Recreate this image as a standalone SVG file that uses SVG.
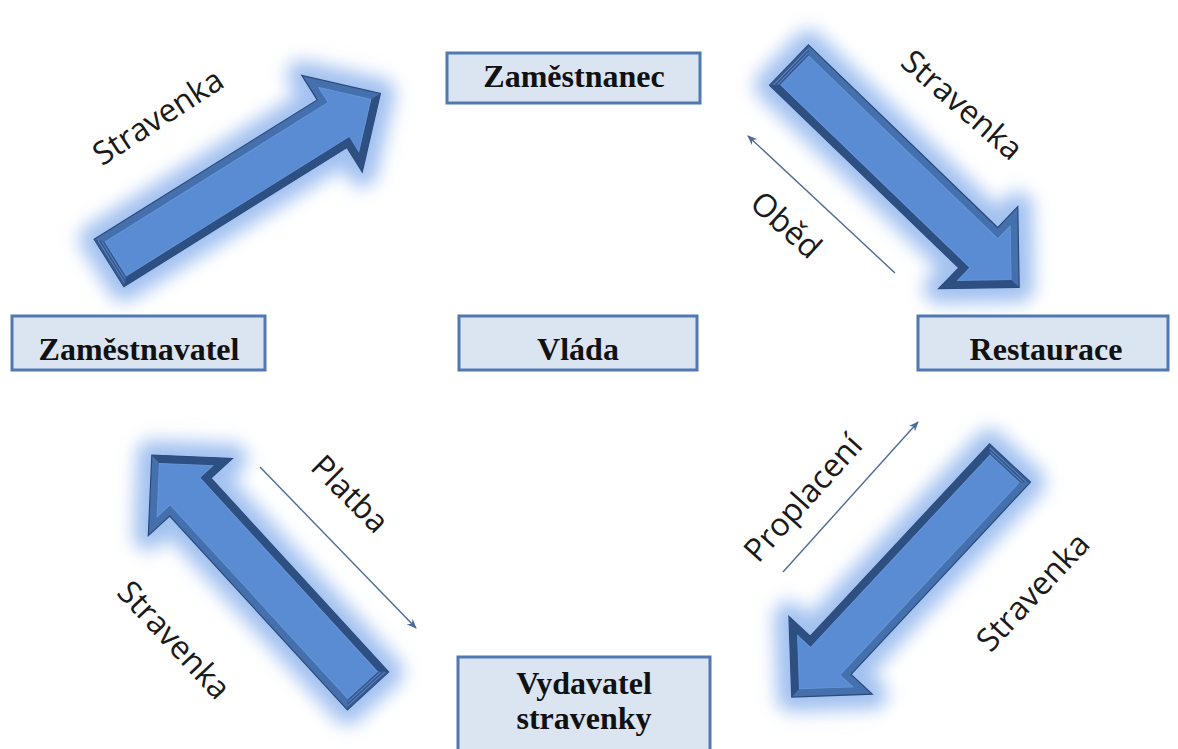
<svg xmlns="http://www.w3.org/2000/svg" xmlns:xlink="http://www.w3.org/1999/xlink" width="1178" height="749" viewBox="0 0 1178 749">
<style>
.box{fill:#dbe5f1;stroke:#5079b2;stroke-width:3}
.btxt{font-family:"Liberation Serif","Times New Roman",serif;font-weight:bold;font-size:32px;fill:#111;text-anchor:middle}
.lbl{font-family:"Open Sans","Noto Sans",sans-serif;font-size:32px;fill:#1a1a1a;text-anchor:middle}
.thin{stroke:#4d6b95;stroke-width:1.4;fill:none;marker-end:url(#ah)}
</style>
<defs>
<filter id="blur" x="-0.3" y="-1.2" width="1.6" height="3.4">
<feGaussianBlur stdDeviation="9"/>
</filter>
<marker id="ah" viewBox="0 0 10 8" refX="9" refY="4" markerWidth="10" markerHeight="8" markerUnits="userSpaceOnUse" orient="auto">
<path d="M0,0 L10,4 L0,8 L3,4 Z" fill="#4d6b95"/>
</marker>
<g id="bigArrow">
<polygon points="0,-28 263,-28 263,-57 320,0 263,57 263,28 0,28" fill="#a2c1f0" stroke="#a2c1f0" stroke-width="30" stroke-linejoin="round" filter="url(#blur)"/>
<polygon points="0,-28 263,-28 263,-57 320,0 263,57 263,28 0,28" fill="#4470ad" stroke="#2b4a78" stroke-width="1.2"/>
<polygon points="0,28 263,28 263,57 320,0 308.7,0 271,37.7 271,20 8,20" fill="#2e4f82"/>
<polygon points="0,-28 8,-20 8,20 0,28" fill="#34588e"/>
<line x1="2.7" y1="-25" x2="2.7" y2="25" stroke="#5a85c2" stroke-width="1"/>
<line x1="5.4" y1="-22" x2="5.4" y2="22" stroke="#5a85c2" stroke-width="1"/>
<polygon points="8,-20 271,-20 271,-37.7 308.7,0 271,37.7 271,20 8,20" fill="#598cd2" stroke="#6795d8" stroke-width="1"/>
</g>
</defs>
<rect width="1178" height="749" fill="#ffffff"/>
<g id="connectors">
<g id="arrow-zamestnavatel-zamestnanec"><use xlink:href="#bigArrow" transform="translate(109,263) rotate(-32)"/></g>
<g id="arrow-zamestnanec-restaurace"><use xlink:href="#bigArrow" transform="translate(789,65) rotate(44)"/></g>
<g id="arrow-restaurace-vydavatel"><use xlink:href="#bigArrow" transform="translate(1010,463) rotate(133)"/></g>
<g id="arrow-vydavatel-zamestnavatel"><use xlink:href="#bigArrow" transform="translate(368,691) rotate(-132.5)"/></g>
<line id="line-obed" class="thin" x1="895" y1="273" x2="748" y2="136"/>
<line id="line-proplaceni" class="thin" x1="783" y1="572" x2="918" y2="422"/>
<line id="line-platba" class="thin" x1="260" y1="467" x2="416" y2="628"/>
<text class="lbl" transform="translate(158,117) rotate(-33)" y="11">Stravenka</text>
<text class="lbl" transform="translate(962,105) rotate(41)" y="11">Stravenka</text>
<text class="lbl" transform="translate(786,225) rotate(42)" y="11">Oběd</text>
<text class="lbl" transform="translate(803,498) rotate(-48)" y="11">Proplacení</text>
<text class="lbl" transform="translate(1033,592) rotate(-47)" y="11">Stravenka</text>
<text class="lbl" transform="translate(350,494) rotate(45)" y="11">Platba</text>
<text class="lbl" transform="translate(174,640) rotate(47)" y="11">Stravenka</text>
</g>
<g id="zamestnanec"><rect class="box" x="447" y="53" width="253" height="50"/><text class="btxt" x="574" y="87">Zaměstnanec</text></g>
<g id="zamestnavatel"><rect class="box" x="12" y="316" width="253" height="54"/><text class="btxt" x="139" y="360">Zaměstnavatel</text></g>
<g id="vlada"><rect class="box" x="459" y="316" width="238" height="54"/><text class="btxt" x="578" y="360">Vláda</text></g>
<g id="restaurace"><rect class="box" x="918" y="316" width="250" height="54"/><text class="btxt" x="1046" y="360">Restaurace</text></g>
<g id="vydavatel"><rect class="box" x="458" y="657" width="252" height="96"/><text class="btxt" x="584" y="694">Vydavatel</text><text class="btxt" x="584" y="729">stravenky</text></g>
</svg>
